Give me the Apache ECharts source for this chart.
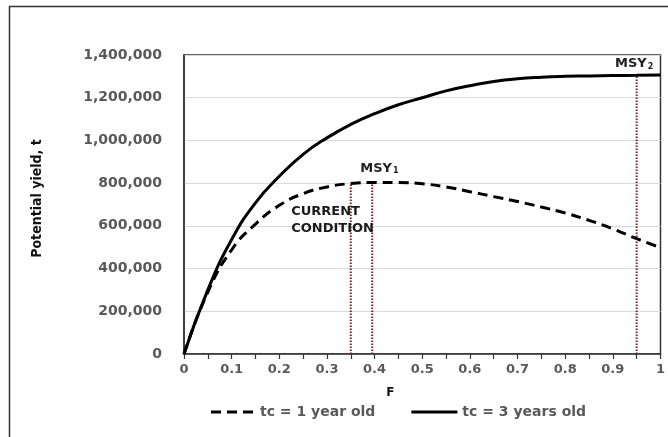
<!DOCTYPE html>
<html>
<head>
<meta charset="utf-8">
<script src="https://cdn.jsdelivr.net/npm/echarts@6/dist/echarts.min.js"></script>
<style>
html,body{margin:0;padding:0;background:#fff;}
#c{width:668px;height:437px;}
</style>
</head>
<body>
<div id="c"></div>
<script>
const F = [0,0.05,0.1,0.15,0.2,0.25,0.3,0.35,0.4,0.45,0.5,0.55,0.6,0.65,0.7,0.75,0.8,0.85,0.9,0.95,1];
const tc1 = [0,290000,488000,608000,696000,751000,782000,798000,803000,803000,797000,782000,760000,737000,714000,688000,660000,626000,586000,540000,498000];
const tc3 = [0,300000,536000,708000,832000,935000,1012000,1075000,1125000,1167000,1200000,1232000,1256000,1276000,1289000,1296000,1300000,1302000,1304000,1305000,1306000];
const refF = [0.35, 0.395, 0.95];
const refTop = [798000, 803000, 1305000];
const seriesNames = ['tc = 1 year old', 'tc = 3 years old'];
const labelF = [0.41, 0.225, 0.985];
const labelY = [869000, 626000, 1360000];

const chart = echarts.init(document.getElementById('c'));
const grey = '#595959';
const dotted = '#7a1f1f';

const refSeries = refF.map((f, i) => ({
  type: 'line', name: 'ref' + i, silent: true, symbol: 'none',
  data: [[f, 0], [f, refTop[i]]],
  lineStyle: {color: dotted, width: 2, type: [1.5, 1.5]},
  z: 1
}));

chart.setOption({
  animation: false,
  grid: {left: 184, right: 4, top: 55, bottom: 83, show: true, borderColor: '#333', borderWidth: 1.5, backgroundColor: 'transparent'},
  xAxis: {
    type: 'value', min: 0, max: 1, interval: 0.05,
    name: 'F', nameLocation: 'middle', nameGap: 33,
    nameTextStyle: {fontFamily: 'DejaVu Sans', fontWeight: 'bold', fontSize: 12, color: '#111', padding: [0, 64, 0, 0]},
    axisLine: {lineStyle: {color: '#333', width: 1.5}},
    axisTick: {show: true, length: 5, lineStyle: {color: '#333', width: 1.2}},
    splitLine: {show: false},
    axisLabel: {
      fontFamily: 'DejaVu Sans', fontWeight: 'bold', fontSize: 13, color: grey, margin: 9,
      formatter: v => {
        const r = Math.round(v * 100);
        if (r % 10 !== 0) return '';
        return String(r / 100);
      }
    }
  },
  yAxis: {
    type: 'value', min: 0, max: 1400000, interval: 200000,
    name: 'Potential yield, t', nameLocation: 'middle', nameGap: 140,
    nameTextStyle: {fontFamily: "'DejaVu Sans Condensed', 'Liberation Sans Narrow', sans-serif", fontWeight: 'bold', fontSize: 14, color: '#111', padding: [0, 0, 0, 12]},
    axisLine: {show: true, lineStyle: {color: '#333', width: 1.5}},
    axisTick: {show: false},
    splitLine: {lineStyle: {color: '#d9d9d9', width: 1}},
    axisLabel: {
      fontFamily: 'DejaVu Sans', fontWeight: 'bold', fontSize: 14, color: grey, margin: 22,
      formatter: v => v.toLocaleString('en-US')
    }
  },
  legend: {
    data: [
      {name: seriesNames[0], icon: 'path://M0,0h10v3h-10z M16,0h10v3h-10z M32,0h10v3h-10z'},
      {name: seriesNames[1], icon: 'path://M0,0h50v3h-50z'}
    ],
    bottom: 13, left: 206, itemWidth: 46, itemHeight: 3, itemGap: 36,
    textStyle: {fontFamily: 'DejaVu Sans', fontWeight: 'bold', fontSize: 14, color: grey},
  },
  series: [
    {
      type: 'line', name: seriesNames[0], smooth: true, symbol: 'none',
      data: F.map((f, i) => [f, tc1[i]]),
      lineStyle: {color: '#000', width: 3, type: [10, 6]},
      itemStyle: {color: '#000'},
      z: 3,
      markPoint: {
        symbol: 'circle', symbolSize: 0, silent: true,
        data: [
          {coord: [labelF[0], labelY[0]], label: {show: true, formatter: '{a|MSY}{b|1}', rich: {
            a: {fontFamily: 'DejaVu Sans', fontWeight: 'bold', fontSize: 13, color: '#222'},
            b: {fontFamily: 'DejaVu Sans', fontWeight: 'bold', fontSize: 8, color: '#222', padding: [6, 0, 0, 1]}
          }}},
          {coord: [labelF[1], labelY[1]], label: {show: true, position: 'right', distance: 0, align: 'left',
            formatter: 'CURRENT\nCONDITION', fontFamily: 'DejaVu Sans', fontWeight: 'bold', fontSize: 13, lineHeight: 17, color: '#1a1a1a'}},
          {coord: [labelF[2], labelY[2]], label: {show: true, position: 'left', distance: 0, formatter: '{a|MSY}{b|2}', rich: {
            a: {fontFamily: 'DejaVu Sans', fontWeight: 'bold', fontSize: 13, color: '#222'},
            b: {fontFamily: 'DejaVu Sans', fontWeight: 'bold', fontSize: 8, color: '#222', padding: [6, 0, 0, 1]}
          }}}
        ]
      }
    },
    {
      type: 'line', name: seriesNames[1], smooth: true, symbol: 'none',
      data: F.map((f, i) => [f, tc3[i]]),
      lineStyle: {color: '#000', width: 3},
      itemStyle: {color: '#000'},
      z: 3
    }
  ].concat(refSeries),
  graphic: [{
    type: 'rect', silent: true, z: -1,
    shape: {x: 9.5, y: 6.5, width: 700, height: 500},
    style: {fill: 'none', stroke: '#333', lineWidth: 1.5}
  }]
});
</script>
</body>
</html>
